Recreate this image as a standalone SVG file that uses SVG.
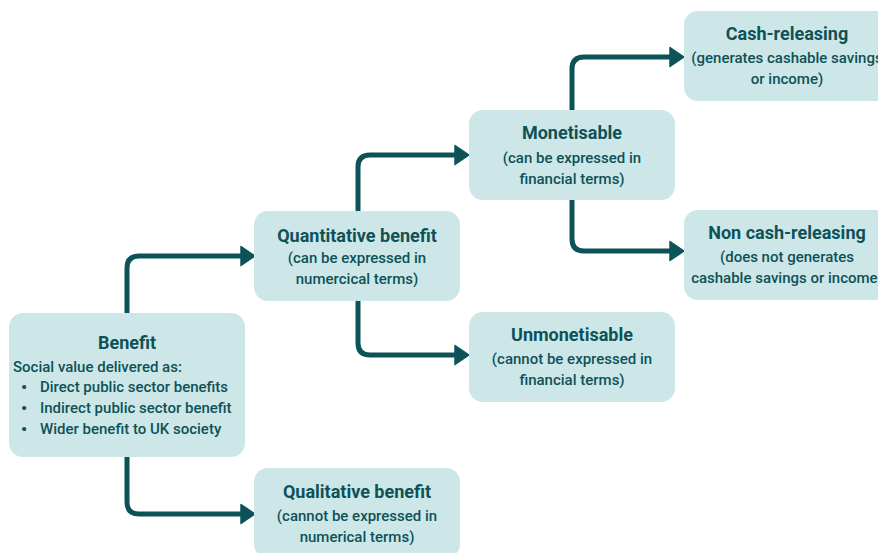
<svg xmlns="http://www.w3.org/2000/svg" width="878" height="553" viewBox="0 0 878 553">
  <defs>
    <style>
      .box { fill: #cde7e9; }
      .title { font-family: Roboto, "Liberation Sans", sans-serif; font-weight: 700; font-size: 18px; fill: #0e5257; text-anchor: middle; }
      .body { font-family: Roboto, "Liberation Sans", sans-serif; font-weight: 500; font-size: 15px; fill: #0e5257; text-anchor: middle; }
      .left { text-anchor: start; }
      .bullet { font-family: Roboto, "Liberation Sans", sans-serif; font-weight: 700; font-size: 17px; fill: #0e5257; }
      .link { fill: none; stroke: #0c5358; stroke-width: 5; stroke-linejoin: round; }
    </style>
    <marker id="arrow" markerUnits="userSpaceOnUse" markerWidth="16" markerHeight="22" viewBox="0 0 16 22" refX="2" refY="11" orient="auto">
      <path d="M1,1.5 L15,11 L1,20.5 Z" fill="#0c5358" stroke="#0c5358" stroke-width="1.5" stroke-linejoin="round"/>
    </marker>
  </defs>

  <rect width="878" height="553" fill="#ffffff"/>

  <!-- connectors -->
  <g id="connectors">
    <path class="link" d="M127,313 V268 Q127,256 139,256 H242" marker-end="url(#arrow)"/>
    <path class="link" d="M127,457 V502 Q127,514 139,514 H242" marker-end="url(#arrow)"/>
    <path class="link" d="M358,211 V167 Q358,155 370,155 H456" marker-end="url(#arrow)"/>
    <path class="link" d="M358,301 V343 Q358,355 370,355 H456" marker-end="url(#arrow)"/>
    <path class="link" d="M572,110 V69 Q572,57 584,57 H671" marker-end="url(#arrow)"/>
    <path class="link" d="M572,200 V239 Q572,251 584,251 H671" marker-end="url(#arrow)"/>
  </g>

  <!-- nodes -->
  <g id="benefit">
    <rect class="box" x="9" y="313" width="236" height="144" rx="14"/>
    <text class="title" x="127" y="349">Benefit</text>
    <text class="body left" x="13" y="372">Social value delivered as:</text>
    <text class="bullet" x="21" y="393">•</text>
    <text class="body left" x="40" y="392">Direct public sector benefits</text>
    <text class="bullet" x="21" y="414">•</text>
    <text class="body left" x="40" y="413">Indirect public sector benefit</text>
    <text class="bullet" x="21" y="435">•</text>
    <text class="body left" x="40" y="434">Wider benefit to UK society</text>
  </g>

  <g id="quantitative">
    <rect class="box" x="254" y="211" width="206" height="90" rx="14"/>
    <text class="title" x="357" y="242">Quantitative benefit</text>
    <text class="body" x="357" y="263">(can be expressed in</text>
    <text class="body" x="357" y="284">numercical terms)</text>
  </g>

  <g id="qualitative">
    <rect class="box" x="254" y="468" width="206" height="90" rx="14"/>
    <text class="title" x="357" y="498">Qualitative benefit</text>
    <text class="body" x="357" y="521">(cannot be expressed in</text>
    <text class="body" x="357" y="542">numerical terms)</text>
  </g>

  <g id="monetisable">
    <rect class="box" x="469" y="110" width="206" height="90" rx="14"/>
    <text class="title" x="572" y="139">Monetisable</text>
    <text class="body" x="572" y="163">(can be expressed in</text>
    <text class="body" x="572" y="184">financial terms)</text>
  </g>

  <g id="unmonetisable">
    <rect class="box" x="469" y="312" width="206" height="90" rx="14"/>
    <text class="title" x="572" y="341">Unmonetisable</text>
    <text class="body" x="572" y="364">(cannot be expressed in</text>
    <text class="body" x="572" y="385">financial terms)</text>
  </g>

  <g id="cash-releasing">
    <rect class="box" x="684" y="11" width="206" height="90" rx="14"/>
    <text class="title" x="787" y="40">Cash-releasing</text>
    <text class="body" x="787" y="63">(generates cashable savings</text>
    <text class="body" x="787" y="84">or income)</text>
  </g>

  <g id="non-cash-releasing">
    <rect class="box" x="684" y="210" width="206" height="90" rx="14"/>
    <text class="title" x="787" y="239">Non cash-releasing</text>
    <text class="body" x="787" y="262">(does not generates</text>
    <text class="body" x="787" y="283">cashable savings or income)</text>
  </g>
</svg>
